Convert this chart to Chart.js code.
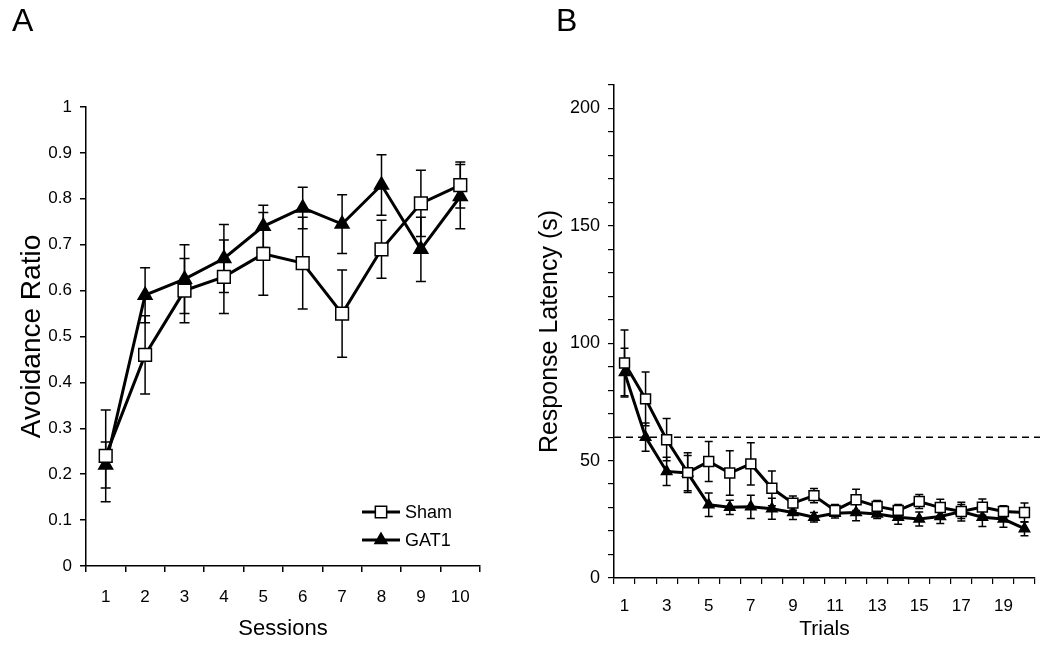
<!DOCTYPE html>
<html>
<head>
<meta charset="utf-8">
<script src="https://cdn.jsdelivr.net/npm/chart.js@4.4.1/dist/chart.umd.min.js"></script>
<style>
  body { margin: 0; background: #fff; }
  #wrap { position: relative; width: 1050px; height: 645px; }
  canvas { position: absolute; top: 0; }
  #chartA { left: 0; }
  #chartB { left: 520px; }
  .panel { position: absolute; top: 2px; font: 32px 'Liberation Sans Narrow', 'Liberation Sans', Arial, sans-serif; color: #000; }
</style>
</head>
<body>
<div id="wrap">
  <canvas id="chartA" width="500" height="645"></canvas>
  <canvas id="chartB" width="530" height="645"></canvas>
  <div class="panel" style="left:12px">A</div>
  <div class="panel" style="left:556px">B</div>
</div>
<script>
// Panel A - avoidance ratio per session
const sessions = ['1', '2', '3', '4', '5', '6', '7', '8', '9', '10'];
const shamRatio = [0.24, 0.46, 0.60, 0.63, 0.68, 0.66, 0.55, 0.69, 0.79, 0.83];
const shamRatioErr = [0.10, 0.085, 0.07, 0.08, 0.09, 0.10, 0.095, 0.063, 0.072, 0.05];
const gatRatio = [0.22, 0.59, 0.625, 0.67, 0.74, 0.78, 0.745, 0.83, 0.69, 0.805];
const gatRatioErr = [0.05, 0.06, 0.075, 0.074, 0.046, 0.045, 0.064, 0.066, 0.07, 0.07];

// Panel B - response latency per trial
const trials = ['1', '2', '3', '4', '5', '6', '7', '8', '9', '10',
  '11', '12', '13', '14', '15', '16', '17', '18', '19', '20'];
const shamLatency = [91.6, 76.3, 58.9, 44.9, 49.6, 44.7, 48.6, 38.2, 31.9, 35.1,
  28.8, 33.3, 30.5, 28.8, 32.6, 30.0, 28.3, 30.2, 28.3, 27.9];
const shamLatencyErr = [14, 11.5, 9, 8.5, 8.5, 9.5, 9, 7.4, 3, 3,
  2.5, 4.5, 2.5, 2.5, 3, 3.5, 4, 3.5, 2.5, 4];
const gatLatency = [87.5, 60.0, 45.4, 44.7, 31.2, 30.1, 30.3, 29.5, 27.9, 25.9,
  27.6, 27.9, 27.3, 25.9, 25.1, 26.2, 28.3, 25.9, 25.1, 21.0];
const gatLatencyErr = [10.4, 6, 6, 7.5, 5, 3, 5, 4.5, 3, 2,
  2, 3.5, 2, 3, 3, 3, 3, 4, 3.5, 3];
const criterion = 60;

Chart.defaults.font.family = "'Liberation Sans', Arial, sans-serif";
Chart.defaults.color = '#000';
Chart.defaults.animation = false;

// vertical error bars with caps, drawn under the markers
const errorBars = {
  id: 'errorBars',
  beforeDatasetsDraw(chart, args, opts) {
    const ctx = chart.ctx;
    const y = chart.scales.y;
    ctx.save();
    ctx.strokeStyle = '#000';
    ctx.lineWidth = opts.width;
    chart.data.datasets.forEach((ds, i) => {
      chart.getDatasetMeta(i).data.forEach((pt, j) => {
        const v = ds.data[j], e = ds.errors[j];
        const top = y.getPixelForValue(v + e);
        const bot = y.getPixelForValue(v - e);
        ctx.beginPath();
        ctx.moveTo(pt.x, top); ctx.lineTo(pt.x, bot);
        ctx.moveTo(pt.x - opts.cap, top); ctx.lineTo(pt.x + opts.cap, top);
        ctx.moveTo(pt.x - opts.cap, bot); ctx.lineTo(pt.x + opts.cap, bot);
        ctx.stroke();
      });
    });
    ctx.restore();
  }
};

// legend with a line through the marker
const lineLegend = {
  id: 'lineLegend',
  afterDatasetsDraw(chart, args, opts) {
    if (!opts.show) return;
    const {ctx, chartArea} = chart;
    const x0 = chartArea.right + opts.dx;
    chart.data.datasets.forEach((ds, i) => {
      const yy = chartArea.bottom + opts.dy + i * opts.gap;
      ctx.save();
      ctx.strokeStyle = '#000';
      ctx.lineWidth = 3;
      ctx.beginPath();
      ctx.moveTo(x0, yy); ctx.lineTo(x0 + opts.len, yy);
      ctx.stroke();
      ctx.fillStyle = ds.pointBackgroundColor;
      ctx.lineWidth = ds.pointBorderWidth;
      Chart.helpers.drawPoint(ctx, {
        pointStyle: ds.pointStyle, radius: ds.pointRadius - 1,
        borderWidth: ds.pointBorderWidth, rotation: 0
      }, x0 + opts.len / 2, yy);
      ctx.fillStyle = '#000';
      ctx.font = "18px 'Liberation Sans', Arial, sans-serif";
      ctx.textBaseline = 'middle';
      ctx.fillText(ds.label, x0 + opts.len + 5, yy + 1);
      ctx.restore();
    });
  }
};

// dashed criterion line
const criterionLine = {
  id: 'criterionLine',
  beforeDatasetsDraw(chart, args, opts) {
    if (opts.value === undefined) return;
    const {ctx, chartArea} = chart;
    const yy = chart.scales.y.getPixelForValue(opts.value);
    ctx.save();
    ctx.strokeStyle = '#000';
    ctx.lineWidth = 1.5;
    ctx.setLineDash([7, 5]);
    ctx.beginPath();
    ctx.moveTo(chartArea.left, yy); ctx.lineTo(chartArea.right + 5, yy);
    ctx.stroke();
    ctx.restore();
  }
};

function series(label, data, errors, style, radius) {
  return {
    label: label,
    data: data,
    errors: errors,
    borderColor: '#000',
    borderWidth: 3,
    pointStyle: style,
    pointRadius: radius,
    pointBorderWidth: 1.5,
    pointBorderColor: '#000',
    pointBackgroundColor: style === 'rect' ? '#fff' : '#000',
    tension: 0
  };
}

const axisLine = { display: true, color: '#000', width: 1.5 };

new Chart(document.getElementById('chartA'), {
  type: 'line',
  data: {
    labels: sessions,
    datasets: [
      series('Sham', shamRatio, shamRatioErr, 'rect', 9),
      series('GAT1', gatRatio, gatRatioErr, 'triangle', 8)
    ]
  },
  plugins: [errorBars, lineLegend],
  options: {
    responsive: false,
    layout: { padding: { top: 107, right: 20, left: 0, bottom: 0 } },
    plugins: {
      legend: { display: false },
      tooltip: { enabled: false },
      errorBars: { cap: 5, width: 1.5 },
      lineLegend: { show: true, dx: -118, dy: -54, gap: 28, len: 38 }
    },
    scales: {
      x: {
        offset: true,
        grid: { offset: true, drawOnChartArea: false, tickLength: 6, color: '#000', lineWidth: 1.5 },
        border: axisLine,
        ticks: { font: { size: 17 }, padding: 15, maxRotation: 0, autoSkip: false },
        title: { display: true, text: 'Sessions', font: { size: 22, lineHeight: 1 }, padding: { top: 0, bottom: 5 } },
        afterFit(scale) { scale.height = 79; }
      },
      y: {
        min: 0,
        max: 1,
        grid: { drawOnChartArea: false, tickLength: 6, color: '#000', lineWidth: 1.5 },
        border: axisLine,
        ticks: {
          stepSize: 0.1, font: { size: 17 }, padding: 8,
          callback(value) { return String(+value.toFixed(1)); }
        },
        title: { display: true, text: 'Avoidance Ratio', font: { size: 28, lineHeight: 1 }, padding: { top: 18, bottom: 0 } },
        afterFit(scale) { scale.width = 86; }
      }
    }
  }
});

new Chart(document.getElementById('chartB'), {
  type: 'line',
  data: {
    labels: trials,
    datasets: [
      series('Sham', shamLatency, shamLatencyErr, 'rect', 7),
      series('GAT1', gatLatency, gatLatencyErr, 'triangle', 6)
    ]
  },
  plugins: [criterionLine, errorBars],
  options: {
    responsive: false,
    layout: { padding: { top: 85, right: 15, left: 0, bottom: 0 } },
    plugins: {
      legend: { display: false },
      tooltip: { enabled: false },
      errorBars: { cap: 4, width: 1.5 },
      criterionLine: { value: criterion }
    },
    scales: {
      x: {
        offset: true,
        grid: { offset: true, drawOnChartArea: false, tickLength: 6, color: '#000', lineWidth: 1.2 },
        border: axisLine,
        ticks: {
          font: { size: 17 }, padding: 12, maxRotation: 0, autoSkip: false,
          callback(value, index) { return index % 2 === 0 ? trials[index] : ''; }
        },
        title: { display: true, text: 'Trials', font: { size: 21, lineHeight: 1 }, padding: { top: 0, bottom: 5 } },
        afterFit(scale) { scale.height = 67; }
      },
      y: {
        min: 0,
        max: 210,
        grid: { drawOnChartArea: false, tickLength: 6, color: '#000', lineWidth: 1.2 },
        border: axisLine,
        ticks: {
          stepSize: 10, font: { size: 18 }, padding: 8, autoSkip: false,
          callback(value) { return value % 50 === 0 ? value : ''; }
        },
        title: { display: true, text: 'Response Latency (s)', font: { size: 25, lineHeight: 1 }, padding: { top: 18, bottom: 0 } },
        afterFit(scale) { scale.width = 94; }
      }
    }
  }
});
</script>
</body>
</html>
